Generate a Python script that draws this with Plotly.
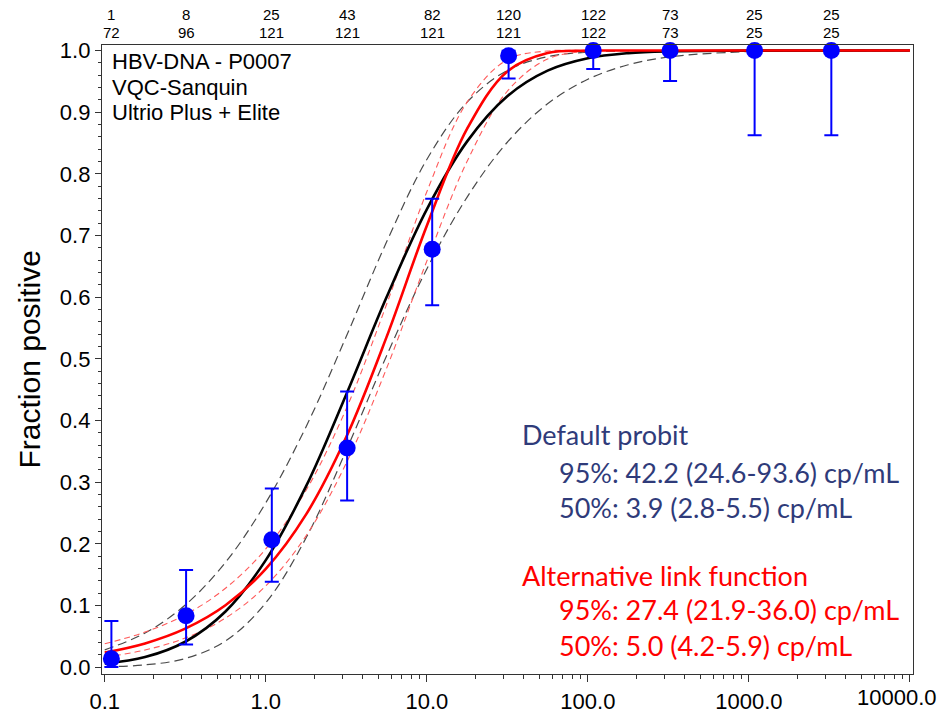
import numpy as np
import plotly.graph_objects as go

# ---- data ----
conc = [0.11, 0.32, 1.09, 3.2, 10.8, 32.2, 108, 324, 1085, 3250]
positives = [1, 8, 25, 43, 82, 120, 122, 73, 25, 25]
totals = [72, 96, 121, 121, 121, 121, 122, 73, 25, 25]
ci_low = [0.0004, 0.0367, 0.1385, 0.2704, 0.5871, 0.9548, 0.9702, 0.9507, 0.8628, 0.8628]
ci_high = [0.0750, 0.1577, 0.2897, 0.4470, 0.7596, 0.9998, 1.0, 1.0, 1.0, 1.0]

curve_x = [0.1, 0.178, 0.316, 0.562, 1.0, 1.78, 3.16, 5.62, 10.0, 17.8, 31.6, 56.2,
           100, 178, 316, 1000, 10000]
probit_fit = [0.0057, 0.0164, 0.0413, 0.0904, 0.1736, 0.2936, 0.4424, 0.5999, 0.7425,
              0.8527, 0.9259, 0.9674, 0.9875, 0.9958, 0.9988, 0.9999, 1.0]
probit_upper = [0.0281, 0.0554, 0.1008, 0.1700, 0.2666, 0.3901, 0.5363, 0.6894, 0.8233,
                0.9165, 0.9678, 0.9900, 0.9975, 0.9995, 0.9999, 1.0, 1.0]
probit_lower = [0.0008, 0.0038, 0.0141, 0.0425, 0.1044, 0.2098, 0.3516, 0.5048, 0.6458,
                0.7624, 0.8513, 0.9136, 0.9535, 0.9769, 0.9895, 0.9983, 1.0]
alt_fit = [0.0237, 0.0386, 0.0625, 0.1004, 0.1594, 0.2478, 0.3732, 0.5353, 0.7159,
           0.8732, 0.9662, 0.9961, 0.9999, 1.0, 1.0, 1.0, 1.0]
alt_upper = [0.0380, 0.0570, 0.0850, 0.1280, 0.1918, 0.2870, 0.4192, 0.5881, 0.7710,
             0.9164, 0.9853, 0.9993, 1.0, 1.0, 1.0, 1.0, 1.0]
alt_lower = [0.0163, 0.0279, 0.0473, 0.0797, 0.1320, 0.2132, 0.3308, 0.4844, 0.6586,
             0.8205, 0.9340, 0.9862, 0.9988, 1.0, 1.0, 1.0, 1.0]

x_tickvals = [0.1, 1, 10, 100, 1000, 10000]
x_ticktext = ["0.1", "1.0", "10.0", "100.0", "1000.0", ""]
y_tickvals = [0.0, 0.1, 0.2, 0.3, 0.4, 0.5, 0.6, 0.7, 0.8, 0.9, 1.0]
y_ticktext = ["0.0", "0.1", "0.2", "0.3", "0.4", "0.5", "0.6", "0.7", "0.8", "0.9", "1.0"]

frac = [p / n for p, n in zip(positives, totals)]
err_up = [h - f for h, f in zip(ci_high, frac)]
err_dn = [f - l for f, l in zip(frac, ci_low)]

NAVY = "#2F3B7A"
fig = go.Figure()

def add_line(y, color, width, dash=None):
    fig.add_trace(go.Scatter(
        x=curve_x, y=y, mode="lines",
        line=dict(color=color, width=width, dash=dash, shape="spline", smoothing=1.0),
        hoverinfo="skip", showlegend=False))

add_line(probit_upper, "#4a4a4a", 1.2, "9px,5px")
add_line(probit_lower, "#4a4a4a", 1.2, "9px,5px")
add_line(alt_upper, "#FF5A5A", 1.1, "6px,4px")
add_line(alt_lower, "#FF5A5A", 1.1, "6px,4px")
add_line(probit_fit, "#000000", 2.6)
add_line(alt_fit, "#FF0000", 2.6)

fig.add_trace(go.Scatter(
    x=conc, y=frac, mode="markers",
    marker=dict(color="#0000FF", size=17),
    error_y=dict(type="data", symmetric=False, array=err_up, arrayminus=err_dn,
                 color="#0000FF", thickness=2, width=7),
    cliponaxis=False, showlegend=False))

annotations = []
for c, p, n in zip(conc, positives, totals):
    annotations.append(dict(x=np.log10(c), y=1.0477, xref="x", yref="paper",
                            text=str(p), showarrow=False, xanchor="center", yanchor="middle",
                            font=dict(family="Arial", size=15, color="#000")))
    annotations.append(dict(x=np.log10(c), y=1.0191, xref="x", yref="paper",
                            text=str(n), showarrow=False, xanchor="center", yanchor="middle",
                            font=dict(family="Arial", size=15, color="#000")))

annotations.append(dict(x=4, y=0, xref="x", yref="paper", text="10000.0",
                        showarrow=False, xanchor="center", yanchor="top",
                        xshift=-13, yshift=-9,
                        font=dict(family="Arial", size=22, color="#000")))

for line, yy in zip(["HBV-DNA - P0007", "VQC-Sanquin", "Ultrio Plus + Elite"],
                    [0.973, 0.932, 0.892]):
    annotations.append(dict(x=0.0099, y=yy, xref="paper", yref="paper", xanchor="left",
                            yanchor="middle", align="left", showarrow=False, text=line,
                            font=dict(family="Arial", size=22, color="#000")))

annotations.append(dict(x=-0.0888, y=0.5, xref="paper", yref="paper", textangle=-90,
                        xanchor="center", yanchor="middle",
                        text="Fraction positive", showarrow=False,
                        font=dict(family="Arial", size=30, color="#000")))

txt = [
    ("Default probit", 0.515, 0.380, NAVY),
    ("95%: 42.2 (24.6-93.6) cp/mL", 0.561, 0.321, NAVY),
    ("50%: 3.9 (2.8-5.5) cp/mL", 0.561, 0.2655, NAVY),
    ("Alternative link function", 0.515, 0.157, "#FF0000"),
    ("95%: 27.4 (21.9-36.0) cp/mL", 0.561, 0.102, "#FF0000"),
    ("50%: 5.0 (4.2-5.9) cp/mL", 0.561, 0.046, "#FF0000"),
]
for t, x, y, col in txt:
    annotations.append(dict(x=x, y=y, xref="paper", yref="paper", text=t,
                            xanchor="left", yanchor="middle", showarrow=False,
                            font=dict(family="Lato", size=27, color=col)))

fig.update_layout(
    width=943, height=714,
    margin=dict(l=102, r=30, t=45, b=40, autoexpand=False),
    paper_bgcolor="white", plot_bgcolor="white",
    annotations=annotations,
    showlegend=False,
)
fig.update_xaxes(
    type="log", range=[-1.017, 4.019], automargin=False,
    tickvals=x_tickvals, ticktext=x_ticktext,
    ticks="outside", ticklen=7, tickcolor="#333",
    minor=dict(ticks="outside", ticklen=4, dtick="D1", tickcolor="#333", showgrid=False),
    showgrid=False, zeroline=False,
    showline=True, linecolor="#333", linewidth=1.3, mirror=True,
    tickfont=dict(family="Arial", size=22, color="#000"),
)
fig.update_yaxes(
    range=[-0.011, 1.009], automargin=False,
    tickvals=y_tickvals, ticktext=y_ticktext,
    ticks="outside", ticklen=6, tickcolor="#333",
    minor=dict(ticks="outside", ticklen=3, dtick=0.02, tickcolor="#333", showgrid=False),
    showgrid=False, zeroline=False,
    showline=True, linecolor="#333", linewidth=1.3, mirror=True,
    tickfont=dict(family="Arial", size=22, color="#000"),
)

fig.write_html("out.html")
